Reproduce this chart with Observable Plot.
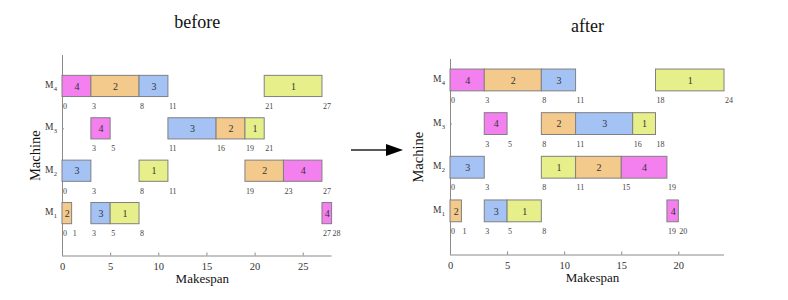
<!DOCTYPE html>
<html><head><meta charset="utf-8">
<script src="https://cdn.jsdelivr.net/npm/d3@7"></script>
<script src="https://cdn.jsdelivr.net/npm/@observablehq/plot@0.6"></script>
<style>
body{margin:0;background:#fff}
#wrap{position:relative;width:788px;height:300px;font-family:"Liberation Serif",serif;overflow:hidden}
#wrap > svg{position:absolute;top:0}
</style></head><body><div id="wrap"></div>
<script>
const titles = ["before", "after"];
const axisLabelX = "Makespan";
const axisLabelY = "Machine";
const jobs = [1, 2, 3, 4];
const jobColors = ["#E6EF8A", "#F4C98C", "#A4C2F4", "#F47FEF"];
const machineIds = [1, 2, 3, 4];
const xTicksBefore = [0, 5, 10, 15, 20, 25];
const xTicksAfter = [0, 5, 10, 15, 20];

const beforeMachine = [4, 4, 4, 4, 3, 3, 3, 3, 2, 2, 2, 2, 1, 1, 1, 1];
const beforeJob     = [4, 2, 3, 1, 4, 3, 2, 1, 3, 1, 2, 4, 2, 3, 1, 4];
const beforeStart   = [0, 3, 8, 21, 3, 11, 16, 19, 0, 8, 19, 23, 0, 3, 5, 27];
const beforeEnd     = [3, 8, 11, 27, 5, 16, 19, 21, 3, 11, 23, 27, 1, 5, 8, 28];

const afterMachine = [4, 4, 4, 4, 3, 3, 3, 3, 2, 2, 2, 2, 1, 1, 1, 1];
const afterJob     = [4, 2, 3, 1, 4, 2, 3, 1, 3, 1, 2, 4, 2, 3, 1, 4];
const afterStart   = [0, 3, 8, 18, 3, 8, 11, 16, 0, 8, 11, 15, 0, 3, 5, 19];
const afterEnd     = [3, 8, 11, 24, 5, 11, 16, 18, 3, 11, 15, 19, 1, 5, 8, 20];

function gantt({title, machine, job, start, end, xTicks, xMax, yMax, width, ml, mr, mt, mb, ylabDx}) {
  const ops = machine.map((m, i) => ({machine: m, job: job[i], start: start[i], end: end[i]}));
  const bounds = [];
  for (const m of machineIds) {
    const ts = new Set();
    ops.filter(o => o.machine === m).forEach(o => { ts.add(o.start); ts.add(o.end); });
    [...ts].sort((a, b) => a - b).forEach(t => bounds.push({machine: m, t}));
  }
  return Plot.plot({
    width, height: 300,
    marginLeft: ml, marginRight: mr, marginTop: mt, marginBottom: mb,
    style: {fontFamily: "'Liberation Serif', serif", background: "transparent", color: "#222", overflow: "visible"},
    x: {domain: [0, xMax], axis: null},
    y: {domain: [0, yMax], axis: null},
    color: {type: "ordinal", domain: jobs, range: jobColors},
    marks: [
      Plot.ruleY([0], {stroke: "#8a8a8a"}),
      Plot.ruleX([0], {stroke: "#8a8a8a"}),
      Plot.ruleX(xTicks, {x: d => d, y1: 0, y2: 0.07, stroke: "#8a8a8a"}),
      Plot.ruleY(machineIds, {y: d => d, x1: 0, x2: xMax * 0.007, stroke: "#8a8a8a"}),
      Plot.text(xTicks, {x: d => d, y: () => 0, dy: 11, text: d => String(d), fontSize: 10.5, fill: "#333"}),
      Plot.rect(ops, {x1: "start", x2: "end", y1: d => d.machine - 0.25, y2: d => d.machine + 0.25, fill: "job", stroke: "#808080", strokeWidth: 1}),
      Plot.text(ops, {x: d => (d.start + d.end) / 2, y: "machine", text: d => String(d.job), fontSize: 10, fill: "#333"}),
      Plot.text(bounds, {x: "t", y: "machine", text: d => String(d.t), dy: 20, dx: 0.5, textAnchor: "start", fontSize: 8, fill: "#444"}),
      Plot.text(machineIds, {x: () => 0, y: d => d, text: () => "M", textAnchor: "end", dx: -9, dy: -1.5, fontSize: 9.5, fill: "#333"}),
      Plot.text(machineIds, {x: () => 0, y: d => d, text: d => String(d), textAnchor: "end", dx: -5.5, dy: 2.5, fontSize: 6.5, fill: "#333"}),
      Plot.text([title], {frameAnchor: "top", lineAnchor: "middle", dy: -33, text: d => d, fontSize: 18, fill: "#111"}),
      Plot.text([axisLabelX], {frameAnchor: "bottom", lineAnchor: "middle", dy: 23, dx: 5, text: d => d, fontSize: 13, fill: "#111"}),
      Plot.text([axisLabelY], {frameAnchor: "left", textAnchor: "middle", lineAnchor: "middle", dx: ylabDx, rotate: -90, text: d => d, fontSize: 14.5, fill: "#111"})
    ]
  });
}

const wrap = document.getElementById("wrap");
const left = gantt({title: titles[0], machine: beforeMachine, job: beforeJob, start: beforeStart, end: beforeEnd,
  xTicks: xTicksBefore, xMax: 28, yMax: 4.73, width: 390, ml: 62, mr: 58.4, mt: 55, mb: 44.5, ylabDx: -27});
left.style.left = "0px";
wrap.appendChild(left);
const right = gantt({title: titles[1], machine: afterMachine, job: afterJob, start: afterStart, end: afterEnd,
  xTicks: xTicksAfter, xMax: 24, yMax: 4.48, width: 398, ml: 60, mr: 64, mt: 59, mb: 45.5, ylabDx: -32});
right.style.left = "390px";
wrap.appendChild(right);

// arrow between the two charts
const ns = "http://www.w3.org/2000/svg";
const arrow = document.createElementNS(ns, "svg");
arrow.setAttribute("width", 788); arrow.setAttribute("height", 300);
arrow.style.left = "0px"; arrow.style.pointerEvents = "none";
arrow.innerHTML = '<line x1="351" y1="150" x2="389" y2="150" stroke="#222" stroke-width="1.6"/>' +
  '<polygon points="386,144 403,150 386,156" fill="#000"/>';
wrap.appendChild(arrow);
</script></body></html>
